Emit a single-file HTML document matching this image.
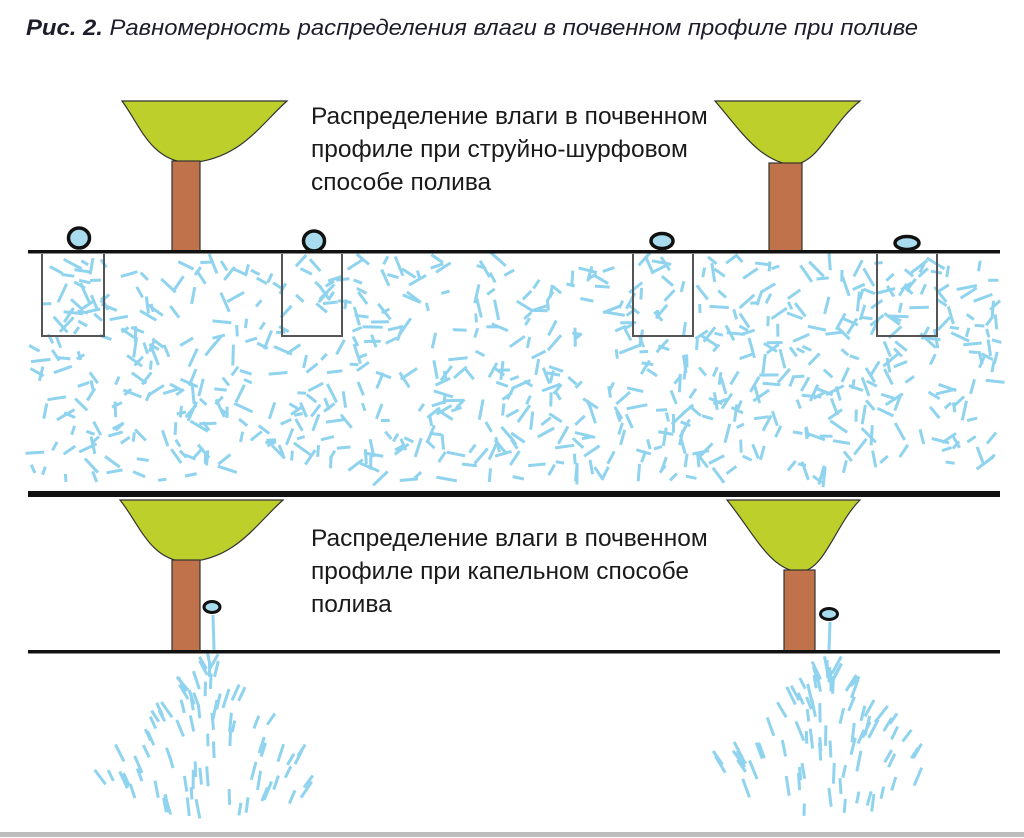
<!DOCTYPE html>
<html><head><meta charset="utf-8"><style>
html,body{margin:0;padding:0;background:#fff;width:1024px;height:838px;overflow:hidden}
svg{display:block}
.t{font-family:"Liberation Sans","DejaVu Sans",sans-serif;font-size:24.5px;fill:#1a1a1a}
</style></head><body>
<svg id="s" width="1024" height="838" viewBox="0 0 1024 838" xmlns="http://www.w3.org/2000/svg">
<text x="26" y="35" font-family="Liberation Sans, sans-serif" font-size="22.5" font-style="italic" fill="#1c1c2a" textLength="892" lengthAdjust="spacingAndGlyphs"><tspan font-weight="bold">Рис. 2.</tspan> Равномерность распределения влаги в почвенном профиле при поливе</text>
<g id="dash" stroke="#8fd3ee" stroke-width="3" stroke-linecap="butt"></g>
<g fill="none" stroke="#555" stroke-width="2">
<path d="M42 254V336H104V254"/><path d="M282 254V336H342V254"/><path d="M633 254V336H693V254"/><path d="M877 254V336H937V254"/>
</g>
<g stroke="#333" stroke-width="1.2">
<path d="M122 101H287C260 125 240 160 188 163C150 160 140 125 122 101Z" fill="#bccf2b"/>
<rect x="172" y="161" width="28" height="91" fill="#c0724a"/>
<path d="M715 101H860C830 125 820 162 793 165C760 162 740 130 715 101Z" fill="#bccf2b"/>
<rect x="769" y="163" width="33" height="89" fill="#c0724a"/>
<path d="M120 500H283C255 525 235 560 186 562C150 560 140 525 120 500Z" fill="#bccf2b"/>
<rect x="172" y="560" width="28" height="92" fill="#c0724a"/>
<path d="M727 500H860C835 525 825 570 800 572C770 570 755 535 727 500Z" fill="#bccf2b"/>
<rect x="784" y="570" width="31" height="82" fill="#c0724a"/>
</g>
<rect x="28" y="250" width="972" height="3.5" fill="#111"/>
<rect x="28" y="491" width="972" height="6" fill="#111"/>
<rect x="28" y="650" width="972" height="3.5" fill="#111"/>
<rect x="0" y="832" width="1024" height="5" fill="#bdbdbd"/>
<g fill="#a9dcef" stroke="#111" stroke-width="3.5">
<ellipse cx="79" cy="238" rx="10.5" ry="10"/><ellipse cx="314" cy="241" rx="10.5" ry="10"/>
<ellipse cx="662" cy="241" rx="11" ry="7.5"/><ellipse cx="907" cy="243" rx="12" ry="6.5"/>
<ellipse cx="212" cy="607" rx="8" ry="5.5" stroke-width="3"/><ellipse cx="829" cy="614" rx="8.5" ry="5.5" stroke-width="3"/>
</g>
<text class="t" x="311" y="124">Распределение влаги в почвенном</text>
<text class="t" x="311" y="157">профиле при струйно-шурфовом</text>
<text class="t" x="311" y="190">способе полива</text>
<text class="t" x="311" y="546">Распределение влаги в почвенном</text>
<text class="t" x="311" y="579">профиле при капельном способе</text>
<text class="t" x="311" y="612">полива</text>
</svg>
<script>
(function(){
var s=98765;function r(){s=(s*1103515245+12345)%2147483648;return s/2147483648;}
var g=document.getElementById('dash'),h='';
function L(x1,y1,x2,y2){h+='<line x1="'+x1.toFixed(1)+'" y1="'+y1.toFixed(1)+'" x2="'+x2.toFixed(1)+'" y2="'+y2.toFixed(1)+'"/>';}
for(var i=0;i<760;i++){var x=32+r()*965,y=258+r()*222,a=r()*Math.PI,l=8+r()*13;
var dx=Math.cos(a)*l/2,dy=Math.sin(a)*l/2;L(x-dx,y-dy,x+dx,y+dy);}
function spray(cx,cy,w,hh,n){for(var i=0;i<n;i++){var t=(r()-0.5)*1.5,d=4+Math.pow(r(),0.8)*hh;var x=cx+Math.sin(t)*d*w,y=cy+Math.cos(t)*d*0.95;
if(y>822)continue;var a=Math.PI/2+t*0.8+(r()-0.5)*0.3,l=12+r()*9;var dx=Math.cos(a)*l/2,dy=Math.sin(a)*l/2;L(x-dx,y-dy,x+dx,y+dy);}}
L(213,615,214,650);L(830,622,829,650);
spray(210,655,1.05,165,80);spray(827,655,1.1,165,80);
g.innerHTML=h;
})();
</script>
</body></html>
